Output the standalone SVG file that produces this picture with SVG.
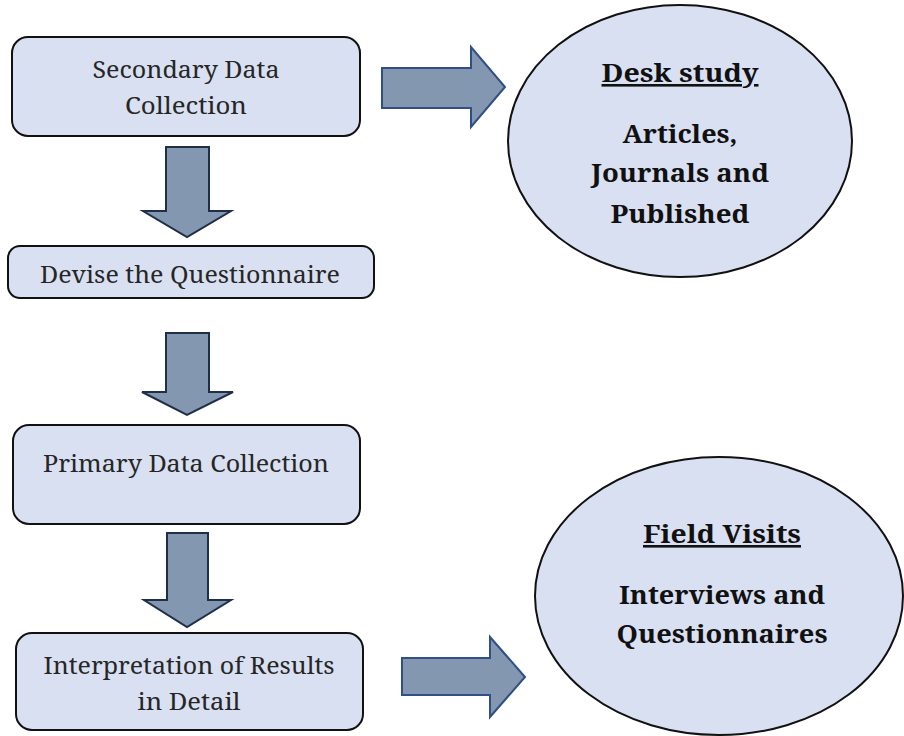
<svg xmlns="http://www.w3.org/2000/svg" width="904" height="736" viewBox="0 0 904 736">
  <style>
    .box { fill: #d9e0f1; stroke: #111; stroke-width: 2; }
    .oval { fill: #d9e0f1; stroke: #111; stroke-width: 2; }
    .arrow { fill: #8497b0; stroke: #1f2f4a; stroke-width: 2; stroke-linejoin: miter; }
    .arrow-r { fill: #8497b0; stroke: #2f4f86; stroke-width: 2; stroke-linejoin: miter; }
    text { font-family: "Noto Serif", "DejaVu Serif", serif; text-anchor: middle; }
    .label { font-size: 24px; fill: #262626; }
    .head { font-size: 26px; font-weight: bold; fill: #111; text-decoration: underline; }
    .body { font-size: 26px; font-weight: bold; fill: #111; }
  </style>

  <!-- connectors -->
  <g id="connectors">
    <path class="arrow-r" d="M382 68 H471 V47 L505 87 L471 127 V108 H382 Z"/>
    <path class="arrow" d="M166 147 H209 V211 H231 L187 237 L143 211 H166 Z"/>
    <path class="arrow" d="M166 333 H209 V392 H233 L187 415 L142 392 H166 Z"/>
    <path class="arrow" d="M167 533 H208 V600 H231 L187 627 L144 600 H167 Z"/>
    <path class="arrow-r" d="M402 658 H490 V637 L525 677 L490 717 V695 H402 Z"/>
  </g>

  <!-- flow boxes -->
  <g id="secondary-data">
    <rect class="box" x="12" y="37" width="348" height="99" rx="16"/>
    <text class="label" x="186" y="78" textLength="187" lengthAdjust="spacingAndGlyphs">Secondary Data</text>
    <text class="label" x="186" y="114" textLength="122" lengthAdjust="spacingAndGlyphs">Collection</text>
  </g>

  <g id="questionnaire">
    <rect class="box" x="8" y="246" width="366" height="52" rx="12"/>
    <text class="label" x="190" y="283" textLength="300" lengthAdjust="spacingAndGlyphs">Devise the Questionnaire</text>
  </g>

  <g id="primary-data">
    <rect class="box" x="13" y="425" width="347" height="99" rx="16"/>
    <text class="label" x="186" y="472" textLength="286" lengthAdjust="spacingAndGlyphs">Primary Data Collection</text>
  </g>

  <g id="interpretation">
    <rect class="box" x="16" y="633" width="347" height="97" rx="16"/>
    <text class="label" x="189" y="674" textLength="291" lengthAdjust="spacingAndGlyphs">Interpretation of Results</text>
    <text class="label" x="189" y="710" textLength="103" lengthAdjust="spacingAndGlyphs">in Detail</text>
  </g>

  <!-- information sources -->
  <g id="desk-study">
    <ellipse class="oval" cx="680" cy="141" rx="172" ry="136"/>
    <text class="head" x="680" y="82" textLength="157" lengthAdjust="spacingAndGlyphs">Desk study</text>
    <text class="body" x="680" y="143" textLength="115" lengthAdjust="spacingAndGlyphs">Articles,</text>
    <text class="body" x="680" y="182" textLength="178" lengthAdjust="spacingAndGlyphs">Journals and</text>
    <text class="body" x="680" y="223" textLength="139" lengthAdjust="spacingAndGlyphs">Published</text>
  </g>

  <g id="field-visits">
    <ellipse class="oval" cx="719" cy="596" rx="184" ry="139"/>
    <text class="head" x="722" y="543" textLength="158" lengthAdjust="spacingAndGlyphs">Field Visits</text>
    <text class="body" x="722" y="604" textLength="206" lengthAdjust="spacingAndGlyphs">Interviews and</text>
    <text class="body" x="722" y="643" textLength="211" lengthAdjust="spacingAndGlyphs">Questionnaires</text>
  </g>
</svg>
